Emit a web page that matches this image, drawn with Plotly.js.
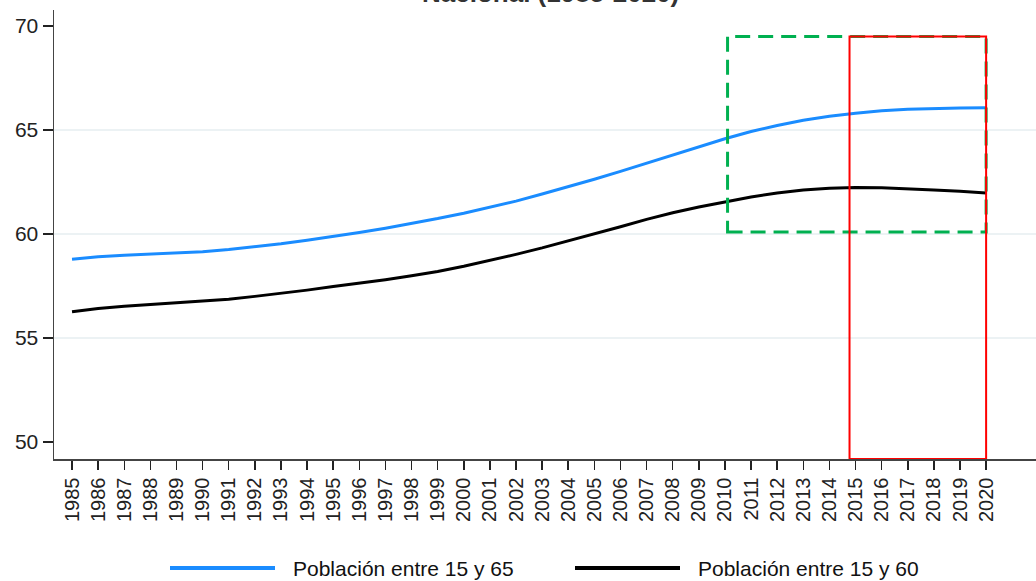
<!DOCTYPE html>
<html>
<head>
<meta charset="utf-8">
<script src="https://cdn.plot.ly/plotly-3.0.1.min.js"></script>
<style>
html,body{margin:0;padding:0;background:#fff;}
#chart{width:1036px;height:581px;}
</style>
</head>
<body>
<div id="chart"></div>
<script>
// ---- data ----
const years = [1985,1986,1987,1988,1989,1990,1991,1992,1993,1994,1995,1996,1997,1998,1999,2000,2001,2002,2003,2004,2005,2006,2007,2008,2009,2010,2011,2012,2013,2014,2015,2016,2017,2018,2019,2020];
const pob15a65 = [58.78,58.90,58.98,59.03,59.08,59.15,59.25,59.38,59.53,59.70,59.88,60.07,60.28,60.50,60.74,61.00,61.28,61.58,61.92,62.27,62.63,63.01,63.40,63.79,64.18,64.58,64.93,65.22,65.47,65.66,65.80,65.92,66.00,66.04,66.06,66.07];
const pob15a60 = [56.26,56.42,56.52,56.60,56.68,56.76,56.86,57.00,57.14,57.30,57.47,57.63,57.80,57.99,58.20,58.45,58.72,59.02,59.33,59.66,60.00,60.35,60.70,61.02,61.30,61.55,61.78,61.97,62.12,62.20,62.23,62.22,62.18,62.12,62.05,61.97];
const seriesNames = ["Población entre 15 y 65","Población entre 15 y 60"];
const seriesColors = ["#1a8cff","#000000"];
const yTicks = [50,55,60,65,70];
const gridVals = [55,60,65];
const titleText = "<b>Nacional (1985-2020)</b>";
// highlighted regions [x0,x1,y0,y1]
const greenBox = [2010.1, 2020.0, 60.1, 69.5];
const redBox = [2014.77, 2020.0, 49.18, 69.5];

const xRange = [1984.31, 2021.91];
const yRange = [49.18, 70.77];

const font = "Arial, 'Liberation Sans', sans-serif";

const traces = [
  {x: years, y: pob15a65, type: 'scatter', mode: 'lines', name: seriesNames[0],
   line: {color: seriesColors[0], width: 3}, showlegend: false, hoverinfo: 'skip'},
  {x: years, y: pob15a60, type: 'scatter', mode: 'lines', name: seriesNames[1],
   line: {color: seriesColors[1], width: 3}, showlegend: false, hoverinfo: 'skip'}
];

const shapes = [];
gridVals.forEach(v => shapes.push({type:'line', xref:'paper', yref:'y', x0:0, x1:1, y0:v, y1:v,
  line:{color:'#e6eef1', width:1.5}, layer:'below'}));
shapes.push({type:'rect', xref:'x', yref:'y', x0:greenBox[0], x1:greenBox[1], y0:greenBox[2], y1:greenBox[3],
  line:{color:'#00b050', width:3, dash:'15px,8px'}, layer:'above'});
shapes.push({type:'rect', xref:'x', yref:'y', x0:redBox[0], x1:redBox[1], y0:redBox[2], y1:redBox[3],
  line:{color:'#ff0000', width:2}, layer:'above'});

// custom legend (long line samples)
const plotL = 54, plotW = 982, plotB = 459, plotH = 449;
const px2x = p => (p - plotL) / plotW;
const py2y = p => (plotB - p) / plotH;
const legendY = 568;
const legendItems = [
  {x0:170, x1:275, tx:291},
  {x0:575, x1:680, tx:696}
];
const annotations = [];
legendItems.forEach((it, i) => {
  shapes.push({type:'line', xref:'paper', yref:'paper', x0:px2x(it.x0), x1:px2x(it.x1), y0:py2y(legendY), y1:py2y(legendY),
    line:{color:seriesColors[i], width:4}});
  annotations.push({xref:'paper', yref:'paper', x:px2x(it.tx), y:py2y(legendY), xanchor:'left', yanchor:'middle',
    text: seriesNames[i], showarrow:false, font:{family:font, size:21, color:'#111'}});
});
annotations.push({xref:'paper', yref:'paper', x:px2x(550), y:py2y(9.5), xanchor:'center', yanchor:'bottom',
  text: titleText, showarrow:false, font:{family:font, size:26, color:'#333'}});

const layout = {
  width: 1036, height: 581,
  margin: {l: 54, r: 0, t: 10, b: 122},
  paper_bgcolor: '#ffffff', plot_bgcolor: '#ffffff',
  showlegend: false,
  font: {family: font, color: '#222'},
  xaxis: {
    range: xRange, tickmode: 'array', tickvals: years, ticktext: years.map(String),
    tickangle: -90, ticks: 'outside', ticklen: 9, tickwidth: 1.5, tickcolor: '#222',
    tickfont: {family: font, size: 20, color: '#222'},
    showgrid: false, zeroline: false, showline: true, linecolor: '#444', linewidth: 1.5
  },
  yaxis: {
    range: yRange, tickmode: 'array', tickvals: yTicks, ticks: 'outside', ticklen: 10,
    tickwidth: 1.5, tickcolor: '#222', tickfont: {family: font, size: 21, color: '#222'},
    showgrid: false, zeroline: false, showline: true, linecolor: '#444', linewidth: 1.5
  },
  shapes: shapes,
  annotations: annotations
};

Plotly.newPlot('chart', traces, layout, {staticPlot: true, displayModeBar: false});
</script>
</body>
</html>
